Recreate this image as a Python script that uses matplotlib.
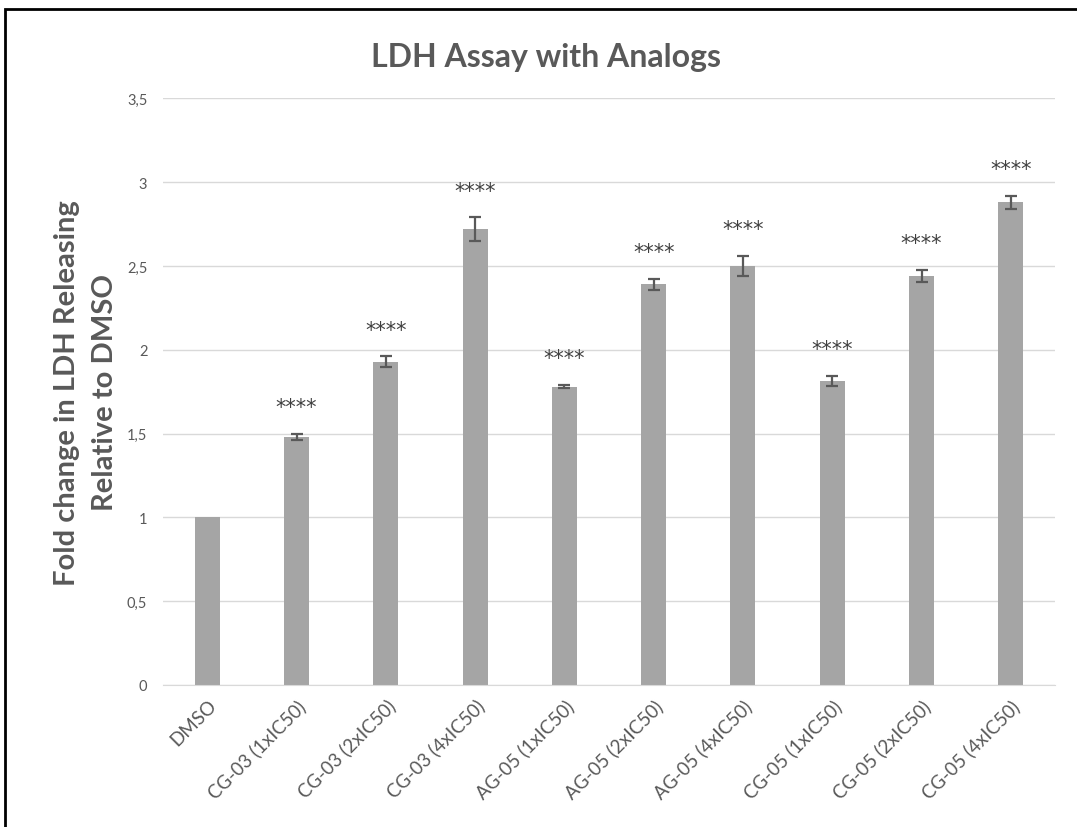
import matplotlib.pyplot as plt
from matplotlib.patches import Rectangle
from matplotlib.ticker import FuncFormatter

categories = ["DMSO", "CG-03 (1xIC50)", "CG-03 (2xIC50)", "CG-03 (4xIC50)",
              "AG-05 (1xIC50)", "AG-05 (2xIC50)", "AG-05 (4xIC50)",
              "CG-05 (1xIC50)", "CG-05 (2xIC50)", "CG-05 (4xIC50)"]
fold_change = [1.0, 1.48, 1.93, 2.72, 1.78, 2.39, 2.50, 1.815, 2.44, 2.88]
errors = [0.0, 0.02, 0.03, 0.07, 0.01, 0.035, 0.06, 0.03, 0.035, 0.04]
significance = ["", "****", "****", "****", "****", "****", "****", "****", "****", "****"]

grey_text = "#595959"

fig = plt.figure(figsize=(10.77, 8.28), dpi=100)
ax = fig.add_axes([0.151, 0.1715, 0.829, 0.7085])

positions = range(len(categories))
ax.bar(positions, fold_change, width=0.28, color="#a5a5a5", zorder=2)
ax.errorbar(positions[1:], fold_change[1:], yerr=errors[1:], fmt="none",
            ecolor=grey_text, elinewidth=1.6, capsize=4, capthick=1.6, zorder=3)

# Signifikanz-Sterne ueber den Fehlerbalken
for x, v, e, s in zip(positions, fold_change, errors, significance):
    if s:
        ax.text(x, v + e + 0.16, s, ha="center", va="center",
                fontsize=15, color="#404040", family="DejaVu Sans")

ax.set_xlim(-0.5, len(categories) - 0.5)
ax.set_ylim(0, 3.5)
ax.set_yticks([0, 0.5, 1, 1.5, 2, 2.5, 3, 3.5])
ax.yaxis.set_major_formatter(FuncFormatter(lambda v, _: f"{v:g}".replace(".", ",")))
ax.grid(axis="y", color="#d9d9d9", linewidth=1, zorder=0)
ax.set_axisbelow(True)
for side in ["top", "right", "left"]:
    ax.spines[side].set_visible(False)
ax.spines["bottom"].set_color("#d9d9d9")
ax.tick_params(axis="both", length=0, colors=grey_text)
ax.tick_params(axis="y", labelsize=10.5, pad=11)
ax.tick_params(axis="x", pad=8)

ax.set_xticks(list(positions))
ax.set_xticklabels(categories, rotation=45, ha="right", rotation_mode="anchor",
                   fontsize=13.5, family="Lato")
for lbl in ax.get_yticklabels():
    lbl.set_family("Lato")

ax.set_ylabel("Fold change in LDH Releasing\nRelative to DMSO", fontsize=21,
              fontweight="bold", color=grey_text, family="Lato",
              linespacing=1.55)
ax.yaxis.set_label_coords(-0.05, 0.5)

fig.text(0.507, 0.931, "LDH Assay with Analogs", ha="center", va="center",
         fontsize=23, fontweight="bold", color=grey_text, family="Lato")

# Rahmen um das Diagramm
fig.patches.append(Rectangle((5 / 1077, -0.05), 1.2, 1 - 10 / 828 + 0.05,
                             transform=fig.transFigure, fill=False,
                             edgecolor="black", linewidth=2))

fig.savefig("out.png", dpi=100)
